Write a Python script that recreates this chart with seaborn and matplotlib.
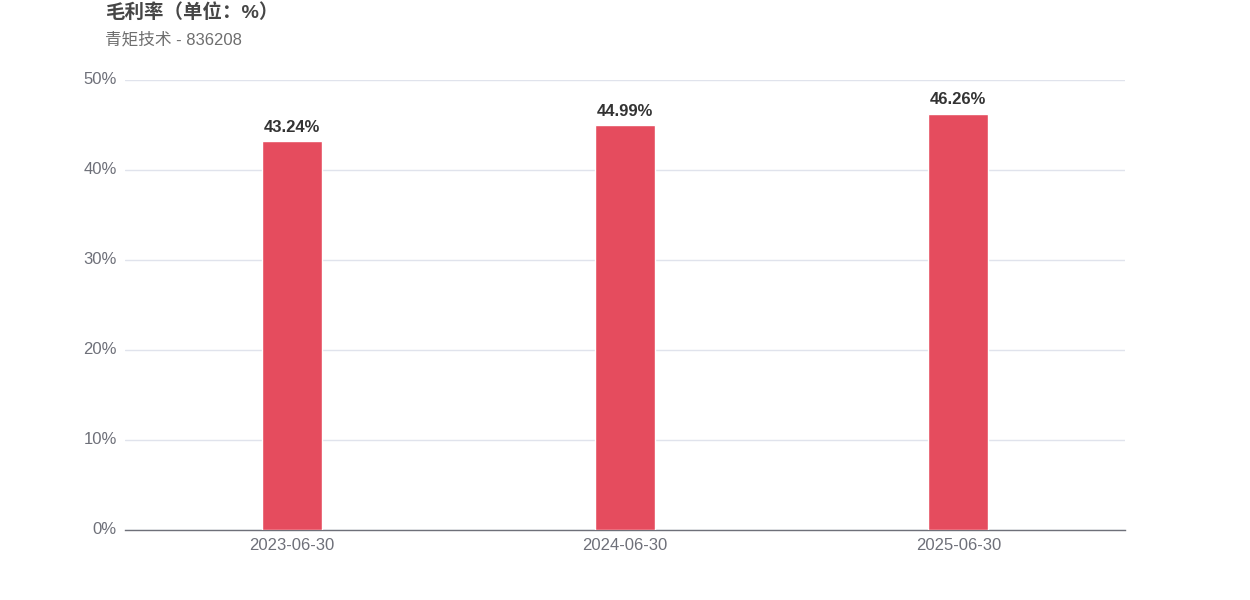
import numpy as np
import pandas as pd
import matplotlib
matplotlib.use("Agg")
import matplotlib.pyplot as plt
import matplotlib.transforms as mtransforms
import seaborn as sns

# data
dates = ["2023-06-30", "2024-06-30", "2025-06-30"]
margin = [43.24, 44.99, 46.26]
title = "毛利率（单位：%）"
subtitle = "青矩技术 - 836208"

df = pd.DataFrame({"date": dates, "margin": margin})

sns.set_theme(style="white")
plt.rcParams["font.family"] = ["Liberation Sans", "Noto Sans CJK SC", "DejaVu Sans"]

fig = plt.figure(figsize=(12.5, 6), dpi=100)
ax = fig.add_axes([0.1, 0.1167, 0.8, 0.75])

sns.barplot(data=df, x="date", y="margin", color="#e54c5e", width=0.18,
            saturation=1, ax=ax, zorder=3)

ax.set_ylim(0, 50)
ax.set_xlim(-0.5, 2.5)
ax.set_yticks(np.arange(0, 51, 10))
ax.set_yticklabels([f"{v}%" for v in range(0, 51, 10)])
ax.yaxis.grid(True, color="#e0e3ec", linewidth=1, zorder=0)
ax.tick_params(axis="both", length=0, labelsize=12, labelcolor="#6e7079")
ax.tick_params(axis="y", pad=6)
ax.tick_params(axis="x", pad=6)
ax.set_xlabel("")
ax.set_ylabel("")
for s in ["top", "right", "left"]:
    ax.spines[s].set_visible(False)
ax.spines["bottom"].set_color("#6e7079")
ax.spines["bottom"].set_linewidth(1)

# nudge y labels up a little
shift = mtransforms.ScaledTranslation(0, 2 / 100, fig.dpi_scale_trans)
for lab in ax.get_yticklabels():
    lab.set_transform(lab.get_transform() + shift)

for i, v in enumerate(margin):
    ax.text(i, v + 0.7, f"{v:.2f}%", ha="center", va="bottom",
            fontsize=12, fontweight="bold", color="#333333")

fig.text(105 / 1250, 1 - 13 / 600, title, fontsize=14, fontweight="bold",
         color="#464646", va="center", ha="left")
fig.text(105 / 1250, 1 - 40 / 600, subtitle, fontsize=12,
         color="#6e6e6e", va="center", ha="left")

fig.savefig("out.png", dpi=100)
